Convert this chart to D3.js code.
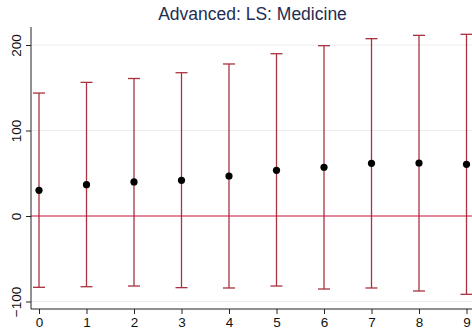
<!DOCTYPE html>
<html><head><meta charset="utf-8">
<script src="https://cdn.jsdelivr.net/npm/d3@7"></script>
<style>body{margin:0;background:#fff}svg{display:block}</style>
</head><body>
<script>
const periods = [0,1,2,3,4,5,6,7,8,9];
const estimates = [30, 36.6, 39.8, 41.7, 46.8, 53.4, 57, 61.6, 62, 60.4];
const upper = [143.8, 156.3, 160.8, 167.6, 177.8, 189.8, 199.2, 207.4, 211.3, 212.5];
const lower = [-83.4, -82.7, -81.9, -83.8, -84.2, -81.9, -85.4, -84.2, -87.7, -91.6];
const yTicks = [-100, 0, 100, 200];
const title = "Advanced: LS: Medicine";

(function(){
const W = 472, H = 336;
const svg = d3.select("body").append("svg").attr("width", W).attr("height", H);
const pLeft = 31, pRight = 472, pTop = 27, pBottom = 309;
const x = d3.scaleLinear().domain([0, 9]).range([39, 466.5]);
const y = d3.scaleLinear().domain([0, 100]).range([216, 130.5]);
const font = "Liberation Sans, Arial, sans-serif";

svg.append("text").attr("x", 252.5).attr("y", 20).attr("text-anchor", "middle")
  .attr("font-family", font).attr("font-size", 17.5)
  .attr("fill", "#1e2d52").text(title);

svg.append("defs").append("clipPath").attr("id", "c")
  .append("rect").attr("x", pLeft).attr("y", 0).attr("width", pRight - pLeft).attr("height", pBottom);

svg.selectAll(".grid").data(yTicks.filter(d => d !== 0)).enter().append("line")
  .attr("x1", pLeft).attr("x2", pRight).attr("y1", d => y(d)).attr("y2", d => y(d))
  .attr("stroke", "#e8eeee").attr("stroke-width", 1);

const g = svg.append("g").attr("clip-path", "url(#c)");
const data = periods.map((p, i) => ({p, e: estimates[i], u: upper[i], l: lower[i]}));
const ebColor = "#a8323f";
g.selectAll(".eb").data(data).enter().append("line")
  .attr("x1", d => x(d.p)).attr("x2", d => x(d.p)).attr("y1", d => y(d.u)).attr("y2", d => y(d.l))
  .attr("stroke", ebColor).attr("stroke-width", 1.3);
g.selectAll(".cu").data(data).enter().append("line")
  .attr("x1", d => x(d.p) - 6).attr("x2", d => x(d.p) + 6).attr("y1", d => y(d.u)).attr("y2", d => y(d.u))
  .attr("stroke", ebColor).attr("stroke-width", 1.3);
g.selectAll(".cl").data(data).enter().append("line")
  .attr("x1", d => x(d.p) - 6).attr("x2", d => x(d.p) + 6).attr("y1", d => y(d.l)).attr("y2", d => y(d.l))
  .attr("stroke", ebColor).attr("stroke-width", 1.3);

svg.append("line").attr("x1", pLeft).attr("x2", pRight).attr("y1", y(0)).attr("y2", y(0))
  .attr("stroke", "#c8103a").attr("stroke-width", 1.2);

g.selectAll(".pt").data(data).enter().append("circle")
  .attr("cx", d => x(d.p)).attr("cy", d => y(d.e)).attr("r", 3.6).attr("fill", "#000");

const yAxis = d3.axisLeft(y).tickValues(yTicks).tickSize(5).tickPadding(4);
const ya = svg.append("g").attr("transform", `translate(${pLeft},0)`).call(yAxis);
ya.select(".domain").attr("d", `M0,${pTop}V${pBottom}`).attr("stroke", "#222");
ya.selectAll(".tick line").attr("stroke", "#222");
ya.selectAll(".tick text").attr("font-family", font).attr("font-size", 13.5)
  .attr("fill", "#111").attr("text-anchor", "middle")
  .attr("x", 0).attr("y", 0).attr("dy", "0.35em")
  .attr("transform", "translate(-15,0) rotate(-90)");

const xAxis = d3.axisBottom(x).tickValues(periods).tickSize(5).tickPadding(3).tickFormat(d3.format("d"));
const xa = svg.append("g").attr("transform", `translate(0,${pBottom})`).call(xAxis);
xa.select(".domain").attr("d", `M${pLeft},0H${pRight}`).attr("stroke", "#222");
xa.selectAll(".tick line").attr("stroke", "#222");
xa.selectAll(".tick text").attr("font-family", font).attr("font-size", 13.5).attr("fill", "#111");
})();
</script>
</body></html>
